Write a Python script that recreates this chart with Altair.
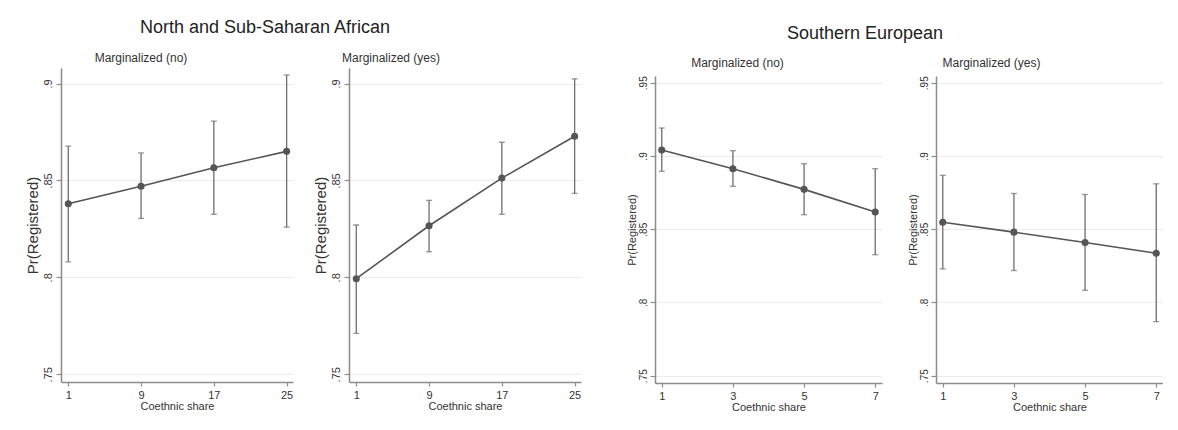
import altair as alt
import pandas as pd

share_af = [1, 9, 17, 25]
share_eu = [1, 3, 5, 7]

af_no_est = [0.838, 0.847, 0.8565, 0.865]
af_no_lo = [0.808, 0.8304, 0.8325, 0.8259]
af_no_hi = [0.8677, 0.8642, 0.8806, 0.9044]

af_yes_est = [0.7993, 0.8266, 0.8512, 0.8728]
af_yes_lo = [0.7711, 0.8132, 0.8325, 0.8433]
af_yes_hi = [0.827, 0.8397, 0.8697, 0.9024]

eu_no_est = [0.9041, 0.8913, 0.8772, 0.8617]
eu_no_lo = [0.8895, 0.8793, 0.8599, 0.8326]
eu_no_hi = [0.9191, 0.9036, 0.8947, 0.8913]

eu_yes_est = [0.8548, 0.848, 0.8409, 0.8336]
eu_yes_lo = [0.8229, 0.8218, 0.8083, 0.7869]
eu_yes_hi = [0.8868, 0.8744, 0.8737, 0.881]

yticks_af = [0.75, 0.8, 0.85, 0.9]
yticks_eu = [0.75, 0.8, 0.85, 0.9, 0.95]

FONT = "Liberation Sans"
LINE_C = "#555555"
ERR_C = "#6e6e6e"
AXIS_C = "#8c8c8c"


def panel(xs, est, lo, hi, title, xdom, ydom, yticks, w, h,
          lab_fs, ytitle_fs, lab_pad, ytitle_pad, title_offset, title_dx):
    df = pd.DataFrame({"share": xs, "est": est, "lo": lo, "hi": hi})
    base = alt.Chart(df)
    xaxis = alt.Axis(values=xs, title="Coethnic share", grid=False, format="d",
                     labelFont=FONT, titleFont=FONT, labelFontSize=11, titleFontSize=11,
                     labelColor="#333", titleColor="#333", titleFontWeight="normal",
                     domainColor=AXIS_C, domainWidth=1.5, tickColor=AXIS_C, tickWidth=1.2,
                     tickSize=4, labelPadding=3, titlePadding=0, labelAngle=0)
    yaxis = alt.Axis(values=yticks, title="Pr(Registered)", grid=True, gridColor="#ececec",
                     gridWidth=1, labelExpr="substring(format(datum.value, '.2~f'), 1)",
                     labelAngle=270, labelAlign="center", labelBaseline="bottom",
                     labelFont=FONT, titleFont=FONT, labelFontSize=lab_fs, titleFontSize=ytitle_fs,
                     labelColor="#333", titleColor="#333", titleFontWeight="normal",
                     domainColor=AXIS_C, domainWidth=1.5, tickColor=AXIS_C, tickWidth=1.2,
                     tickSize=5, labelPadding=lab_pad, titlePadding=ytitle_pad)
    xsc = alt.Scale(domain=xdom, nice=False, zero=False)
    ysc = alt.Scale(domain=ydom, nice=False, zero=False)

    def X():
        return alt.X("share:Q", scale=xsc, axis=xaxis)

    def Y(f):
        return alt.Y(f"{f}:Q", scale=ysc, axis=yaxis)

    err = base.mark_rule(color=ERR_C, strokeWidth=1.3).encode(x=X(), y=Y("lo"), y2="hi:Q")
    cap_lo = base.mark_tick(orient="horizontal", color=ERR_C, size=6, thickness=1.3).encode(x=X(), y=Y("lo"))
    cap_hi = base.mark_tick(orient="horizontal", color=ERR_C, size=6, thickness=1.3).encode(x=X(), y=Y("hi"))
    line = base.mark_line(color=LINE_C, strokeWidth=1.6).encode(x=X(), y=Y("est"))
    pts = base.mark_circle(color=LINE_C, size=50, opacity=1).encode(x=X(), y=Y("est"))
    return alt.layer(err, cap_lo, cap_hi, line, pts).properties(
        width=w, height=h,
        title=alt.TitleParams(title, font=FONT, fontSize=12, fontWeight="normal",
                              color="#333", offset=title_offset, anchor="middle",
                              frame="group", dx=title_dx))


def header(text, w, h, offset, dx):
    return alt.Chart(pd.DataFrame({"a": [0]})).mark_point(opacity=0).encode(
        x=alt.value(0), y=alt.value(0)
    ).properties(
        width=w, height=h,
        title=alt.TitleParams(text, font=FONT, fontSize=18, fontWeight="normal",
                              color="#222", offset=offset, anchor="middle",
                              frame="group", dx=dx))


p1 = panel(share_af, af_no_est, af_no_lo, af_no_hi, "Marginalized (no)",
           [0.2, 25.7], [0.746, 0.908], yticks_af, 232, 314, 11, 15, 3, 2, 3.5, -36)
p2 = panel(share_af, af_yes_est, af_yes_lo, af_yes_hi, "Marginalized (yes)",
           [0.2, 25.7], [0.746, 0.908], yticks_af, 232, 314, 11, 15, 3, 2, 3.5, -74)
p3 = panel(share_eu, eu_no_est, eu_no_lo, eu_no_hi, "Marginalized (no)",
           [0.81, 7.19], [0.745, 0.9546], yticks_eu, 227, 307, 10, 11, 1.5, 1, 5.5, -31)
p4 = panel(share_eu, eu_yes_est, eu_yes_lo, eu_yes_hi, "Marginalized (yes)",
           [0.81, 7.19], [0.745, 0.9546], yticks_eu, 227, 307, 10, 11, 1.5, 1, 5.5, -58)

left = alt.vconcat(
    header("North and Sub-Saharan African", 520, 1, 8.5, -56),
    alt.hconcat(p1, p2, spacing=20),
    spacing=0,
)

right = alt.vconcat(
    header("Southern European", 508, 8.5, 2.5, -44),
    alt.hconcat(p3, p4, spacing=25),
    spacing=0,
)

chart = alt.hconcat(left, right, spacing=45).properties(
    padding={"left": 17, "top": 10, "right": 0, "bottom": 0},
    background="white",
).configure_view(stroke=None)

chart.save("out.html", embed_options={"renderer": "svg", "actions": False})
